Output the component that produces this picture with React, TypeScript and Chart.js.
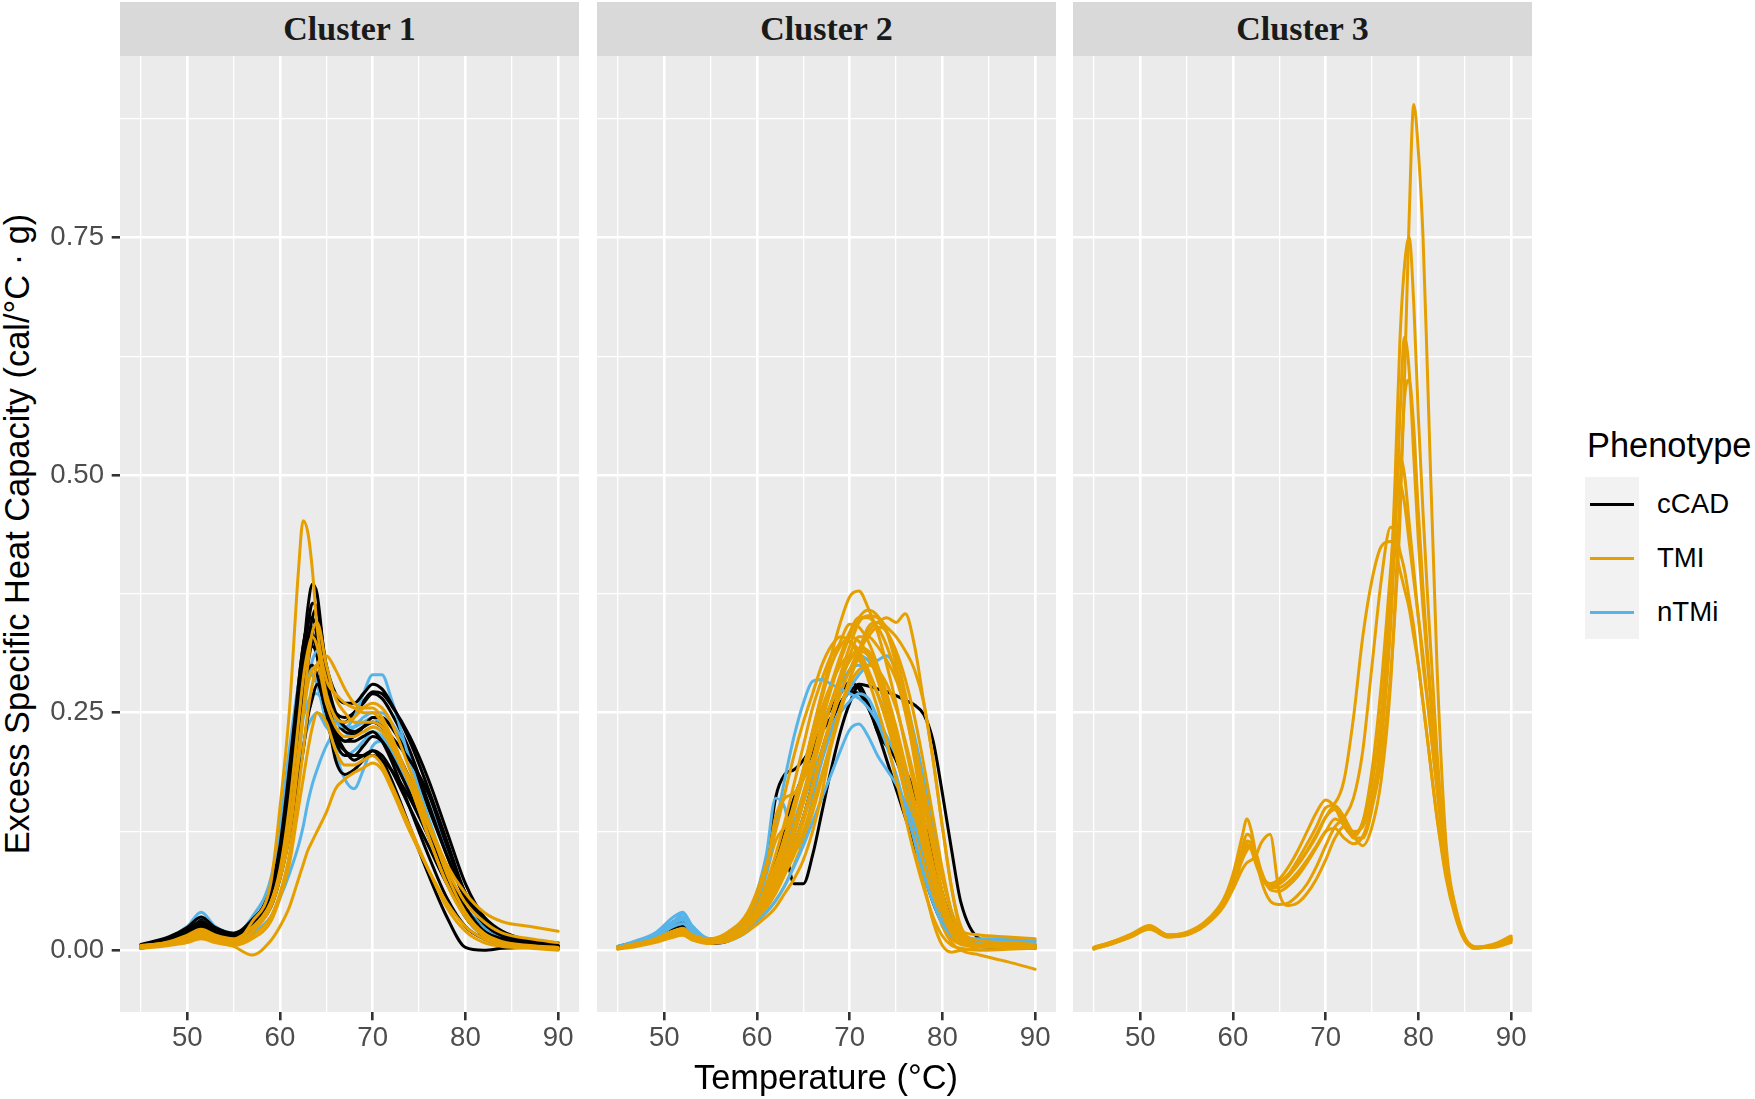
import React, { useEffect, useRef } from "react";
import { Chart, registerables } from "chart.js";

Chart.register(...registerables);

// ---------------- data ----------------
const panelTitles = ["Cluster 1", "Cluster 2", "Cluster 3"];
const phenotypes = ["cCAD", "TMI", "nTMi"];
const phenotypeColors: Record<string, string> = { cCAD: "#000000", TMI: "#E69F00", nTMi: "#56B4E9" };

const xGridValues = [45, 50, 55, 60, 65, 70, 75, 80, 85, 90];
const xMajorValues = [50, 60, 70, 80, 90];
const xTickLabels = ["50", "60", "70", "80", "90"];
const yGridValues = [0, 0.125, 0.25, 0.375, 0.5, 0.625, 0.75, 0.875];
const yMajorValues = [0, 0.25, 0.5, 0.75];
const yTickLabels = ["0.00", "0.25", "0.50", "0.75"];
const xLimits = [42.75, 92.25];
const yLimits = [-0.065, 0.941];

const xTitle = "Temperature (°C)";
const yTitle = "Excess Specific Heat Capacity (cal/°C · g)";
const legendTitle = "Phenotype";

// Cluster 1 temperatures (°C)
const temp1 = [45, 48, 50, 51.5, 53, 55, 57, 59, 60, 61, 62, 62.5, 63, 63.5, 64, 65, 66, 67, 68, 69, 70, 71, 72, 74, 76, 78, 80, 82, 84, 87, 90];

const c1_TMI_1 = [0.005, 0.008, 0.012, 0.015, 0.01, 0.008, 0.03, 0.07, 0.15, 0.25, 0.4, 0.452, 0.44, 0.4, 0.34, 0.285, 0.27, 0.26, 0.255, 0.25, 0.25, 0.24, 0.225, 0.175, 0.12, 0.07, 0.035, 0.015, 0.008, 0.004, 0.002];
const c1_TMI_2 = [0.002, 0.006, 0.01, 0.014, 0.01, 0.004, -0.005, 0.01, 0.025, 0.045, 0.075, 0.09, 0.105, 0.115, 0.125, 0.145, 0.17, 0.18, 0.187, 0.192, 0.197, 0.19, 0.17, 0.125, 0.085, 0.05, 0.025, 0.012, 0.006, 0.003, 0.001];
const c1_TMI_3 = [0.004, 0.007, 0.012, 0.018, 0.012, 0.008, 0.02, 0.045, 0.075, 0.12, 0.2, 0.25, 0.3, 0.335, 0.345, 0.3, 0.265, 0.25, 0.24, 0.24, 0.24, 0.235, 0.22, 0.18, 0.135, 0.09, 0.06, 0.04, 0.03, 0.025, 0.02];
const c1_TMI_4 = [0.003, 0.006, 0.01, 0.015, 0.01, 0.006, 0.015, 0.035, 0.06, 0.1, 0.17, 0.21, 0.25, 0.28, 0.3, 0.31, 0.295, 0.275, 0.26, 0.255, 0.255, 0.245, 0.225, 0.175, 0.12, 0.07, 0.035, 0.015, 0.008, 0.004, 0.002];
const c1_TMI_5 = [0.005, 0.008, 0.013, 0.02, 0.014, 0.01, 0.02, 0.05, 0.085, 0.15, 0.24, 0.285, 0.315, 0.33, 0.32, 0.27, 0.245, 0.24, 0.245, 0.255, 0.26, 0.255, 0.24, 0.19, 0.135, 0.08, 0.04, 0.018, 0.009, 0.005, 0.003];
const c1_TMI_6 = [0.002, 0.005, 0.008, 0.012, 0.008, 0.005, 0.012, 0.03, 0.055, 0.09, 0.15, 0.18, 0.21, 0.235, 0.25, 0.24, 0.21, 0.195, 0.195, 0.2, 0.205, 0.195, 0.175, 0.13, 0.085, 0.045, 0.02, 0.008, 0.004, 0.002, 0.0];
const c1_TMI_7 = [0.004, 0.009, 0.016, 0.022, 0.016, 0.012, 0.024, 0.05, 0.08, 0.13, 0.21, 0.25, 0.28, 0.295, 0.3, 0.26, 0.235, 0.225, 0.225, 0.23, 0.235, 0.23, 0.215, 0.175, 0.13, 0.085, 0.05, 0.03, 0.018, 0.012, 0.008];

const c1_cCAD_1 = [0.004, 0.012, 0.022, 0.03, 0.02, 0.015, 0.028, 0.055, 0.09, 0.16, 0.26, 0.31, 0.36, 0.385, 0.375, 0.29, 0.25, 0.235, 0.23, 0.235, 0.24, 0.235, 0.22, 0.18, 0.13, 0.08, 0.045, 0.02, 0.01, 0.005, 0.002];
const c1_cCAD_2 = [0.003, 0.01, 0.018, 0.028, 0.02, 0.016, 0.03, 0.06, 0.095, 0.16, 0.25, 0.3, 0.34, 0.365, 0.36, 0.3, 0.27, 0.26, 0.26, 0.27, 0.28, 0.275, 0.26, 0.22, 0.17, 0.115, 0.06, 0.03, 0.015, 0.008, 0.004];
const c1_cCAD_3 = [0.005, 0.012, 0.02, 0.03, 0.022, 0.016, 0.03, 0.065, 0.11, 0.19, 0.28, 0.32, 0.345, 0.35, 0.33, 0.26, 0.22, 0.205, 0.205, 0.215, 0.225, 0.22, 0.205, 0.165, 0.12, 0.075, 0.035, 0.015, 0.008, 0.004, 0.002];
const c1_cCAD_4 = [0.004, 0.01, 0.018, 0.025, 0.018, 0.012, 0.025, 0.05, 0.08, 0.13, 0.21, 0.26, 0.3, 0.325, 0.33, 0.27, 0.23, 0.21, 0.2, 0.205, 0.21, 0.2, 0.18, 0.13, 0.08, 0.035, 0.003, 0.0, 0.002, 0.003, 0.001];
const c1_cCAD_5 = [0.006, 0.014, 0.024, 0.035, 0.024, 0.018, 0.032, 0.06, 0.1, 0.17, 0.25, 0.28, 0.295, 0.3, 0.29, 0.25, 0.23, 0.22, 0.225, 0.235, 0.24, 0.235, 0.225, 0.2, 0.165, 0.11, 0.06, 0.035, 0.02, 0.01, 0.005];
const c1_cCAD_6 = [0.003, 0.008, 0.015, 0.022, 0.016, 0.012, 0.022, 0.045, 0.075, 0.12, 0.18, 0.21, 0.245, 0.265, 0.28, 0.25, 0.2, 0.185, 0.19, 0.2, 0.21, 0.205, 0.19, 0.15, 0.11, 0.07, 0.04, 0.02, 0.012, 0.006, 0.003];
const c1_cCAD_7 = [0.005, 0.012, 0.022, 0.032, 0.022, 0.015, 0.03, 0.06, 0.1, 0.18, 0.28, 0.32, 0.34, 0.335, 0.31, 0.26, 0.24, 0.24, 0.25, 0.26, 0.27, 0.265, 0.25, 0.21, 0.155, 0.1, 0.055, 0.03, 0.018, 0.01, 0.008];
const c1_cCAD_8 = [0.002, 0.008, 0.016, 0.026, 0.02, 0.014, 0.028, 0.055, 0.09, 0.15, 0.24, 0.28, 0.31, 0.32, 0.31, 0.26, 0.23, 0.22, 0.22, 0.225, 0.23, 0.22, 0.2, 0.15, 0.1, 0.055, 0.025, 0.012, 0.006, 0.004, 0.002];
const c1_cCAD_9 = [0.004, 0.01, 0.018, 0.028, 0.02, 0.015, 0.027, 0.05, 0.085, 0.14, 0.22, 0.27, 0.32, 0.35, 0.36, 0.28, 0.225, 0.21, 0.205, 0.205, 0.205, 0.2, 0.19, 0.16, 0.12, 0.08, 0.045, 0.022, 0.012, 0.006, 0.003];
const c1_cCAD_10 = [0.003, 0.009, 0.017, 0.027, 0.02, 0.014, 0.026, 0.052, 0.088, 0.155, 0.25, 0.29, 0.325, 0.34, 0.335, 0.28, 0.245, 0.23, 0.228, 0.235, 0.245, 0.245, 0.235, 0.2, 0.15, 0.1, 0.055, 0.028, 0.015, 0.008, 0.004];
const c1_cCAD_11 = [0.005, 0.013, 0.023, 0.034, 0.024, 0.017, 0.03, 0.058, 0.095, 0.165, 0.255, 0.3, 0.33, 0.33, 0.315, 0.27, 0.25, 0.245, 0.25, 0.262, 0.272, 0.27, 0.258, 0.225, 0.18, 0.125, 0.07, 0.035, 0.018, 0.009, 0.005];

const c1_nTMi_1 = [0.003, 0.01, 0.02, 0.03, 0.022, 0.016, 0.03, 0.06, 0.1, 0.16, 0.22, 0.245, 0.26, 0.27, 0.27, 0.255, 0.24, 0.235, 0.245, 0.27, 0.29, 0.29, 0.265, 0.2, 0.14, 0.085, 0.045, 0.022, 0.012, 0.006, 0.003];
const c1_nTMi_2 = [0.005, 0.013, 0.025, 0.04, 0.025, 0.016, 0.028, 0.05, 0.08, 0.13, 0.2, 0.245, 0.28, 0.305, 0.315, 0.27, 0.21, 0.18, 0.17, 0.19, 0.215, 0.22, 0.21, 0.17, 0.12, 0.075, 0.04, 0.02, 0.01, 0.005, 0.002];
const c1_nTMi_3 = [0.004, 0.012, 0.022, 0.035, 0.024, 0.016, 0.035, 0.075, 0.13, 0.21, 0.28, 0.3, 0.3, 0.29, 0.28, 0.26, 0.245, 0.235, 0.23, 0.23, 0.235, 0.23, 0.215, 0.17, 0.12, 0.07, 0.035, 0.015, 0.008, 0.004, 0.002];
const c1_nTMi_4 = [0.003, 0.008, 0.015, 0.022, 0.016, 0.01, 0.018, 0.035, 0.055, 0.08, 0.11, 0.13, 0.155, 0.175, 0.19, 0.215, 0.23, 0.235, 0.235, 0.24, 0.245, 0.235, 0.215, 0.17, 0.12, 0.075, 0.04, 0.02, 0.01, 0.005, 0.003];
const c1_nTMi_5 = [0.004, 0.011, 0.02, 0.032, 0.024, 0.018, 0.03, 0.06, 0.1, 0.17, 0.25, 0.275, 0.285, 0.29, 0.28, 0.24, 0.215, 0.205, 0.21, 0.22, 0.23, 0.225, 0.21, 0.17, 0.125, 0.08, 0.045, 0.025, 0.014, 0.008, 0.004];
const c1_nTMi_6 = [0.005, 0.012, 0.022, 0.034, 0.025, 0.016, 0.028, 0.055, 0.085, 0.13, 0.19, 0.215, 0.235, 0.245, 0.25, 0.235, 0.225, 0.225, 0.235, 0.245, 0.25, 0.25, 0.24, 0.205, 0.155, 0.105, 0.06, 0.03, 0.015, 0.007, 0.004];

// Cluster 2 temperatures (°C)
const temp2 = [45, 47, 49, 51, 52, 53, 55, 57, 59, 61, 62, 63, 64, 65, 66, 67, 68, 69, 70, 71, 72, 73, 74, 75, 76, 77, 78, 79, 80, 81, 82, 84, 87, 90];

const c2_TMI_1 = [0.002, 0.006, 0.01, 0.018, 0.02, 0.014, 0.01, 0.015, 0.03, 0.06, 0.08, 0.11, 0.145, 0.185, 0.23, 0.27, 0.31, 0.345, 0.372, 0.378, 0.36, 0.335, 0.3, 0.26, 0.215, 0.17, 0.125, 0.085, 0.05, 0.025, 0.012, 0.006, 0.005, 0.004];
const c2_TMI_2 = [0.002, 0.005, 0.009, 0.015, 0.017, 0.012, 0.008, 0.012, 0.025, 0.045, 0.06, 0.08, 0.1, 0.125, 0.155, 0.185, 0.22, 0.255, 0.285, 0.31, 0.335, 0.345, 0.35, 0.345, 0.354, 0.32, 0.26, 0.2, 0.13, 0.065, 0.02, 0.006, 0.005, 0.004];
const c2_TMI_3 = [0.003, 0.007, 0.012, 0.02, 0.022, 0.015, 0.01, 0.014, 0.028, 0.055, 0.075, 0.1, 0.13, 0.165, 0.2, 0.24, 0.275, 0.305, 0.33, 0.35, 0.358, 0.352, 0.335, 0.3, 0.255, 0.2, 0.14, 0.085, 0.04, 0.018, 0.008, 0.005, 0.005, 0.003];
const c2_TMI_4 = [0.002, 0.006, 0.011, 0.02, 0.022, 0.016, 0.012, 0.02, 0.04, 0.09, 0.125, 0.165, 0.205, 0.24, 0.27, 0.3, 0.32, 0.33, 0.325, 0.31, 0.285, 0.255, 0.22, 0.18, 0.14, 0.1, 0.065, 0.035, 0.015, 0.005, 0.002, 0.0, 0.001, 0.002];
const c2_TMI_5 = [0.002, 0.005, 0.01, 0.017, 0.019, 0.013, 0.009, 0.014, 0.03, 0.06, 0.085, 0.115, 0.15, 0.19, 0.23, 0.265, 0.3, 0.325, 0.343, 0.34, 0.325, 0.3, 0.27, 0.235, 0.195, 0.155, 0.115, 0.075, 0.04, 0.018, 0.008, 0.004, 0.003, 0.002];
const c2_TMI_6 = [0.003, 0.006, 0.01, 0.016, 0.018, 0.013, 0.01, 0.015, 0.028, 0.05, 0.065, 0.085, 0.11, 0.14, 0.175, 0.21, 0.245, 0.28, 0.31, 0.33, 0.33, 0.32, 0.305, 0.285, 0.255, 0.215, 0.17, 0.12, 0.075, 0.04, 0.02, 0.01, 0.008, 0.006];
const c2_TMI_7 = [0.002, 0.006, 0.01, 0.017, 0.019, 0.014, 0.01, 0.016, 0.035, 0.085, 0.14, 0.16, 0.165, 0.18, 0.2, 0.23, 0.26, 0.285, 0.305, 0.315, 0.31, 0.29, 0.26, 0.225, 0.185, 0.145, 0.105, 0.07, 0.04, 0.02, 0.01, 0.005, 0.004, 0.003];
const c2_TMI_8 = [0.001, 0.004, 0.008, 0.014, 0.016, 0.011, 0.007, 0.01, 0.02, 0.035, 0.045, 0.06, 0.075, 0.095, 0.125, 0.165, 0.215, 0.255, 0.28, 0.295, 0.3, 0.295, 0.28, 0.255, 0.22, 0.18, 0.135, 0.09, 0.05, 0.022, 0.01, 0.005, 0.004, 0.003];
const c2_TMI_9 = [0.002, 0.005, 0.009, 0.015, 0.017, 0.012, 0.009, 0.013, 0.025, 0.048, 0.065, 0.09, 0.12, 0.155, 0.19, 0.225, 0.26, 0.29, 0.32, 0.345, 0.352, 0.35, 0.34, 0.33, 0.315, 0.295, 0.26, 0.2, 0.13, 0.065, 0.025, 0.008, 0.006, 0.005];
const c2_TMI_10 = [0.003, 0.006, 0.011, 0.018, 0.02, 0.014, 0.01, 0.014, 0.026, 0.045, 0.06, 0.08, 0.105, 0.135, 0.17, 0.205, 0.24, 0.27, 0.295, 0.315, 0.33, 0.34, 0.335, 0.31, 0.27, 0.22, 0.165, 0.11, 0.06, 0.028, 0.012, 0.006, 0.005, 0.004];
const c2_TMI_11 = [0.004, 0.007, 0.012, 0.02, 0.022, 0.016, 0.011, 0.016, 0.03, 0.06, 0.085, 0.115, 0.15, 0.19, 0.23, 0.27, 0.3, 0.32, 0.33, 0.325, 0.31, 0.285, 0.25, 0.21, 0.17, 0.13, 0.09, 0.055, 0.025, 0.008, 0.0, -0.005, -0.012, -0.02];
const c2_TMI_12 = [0.002, 0.005, 0.009, 0.015, 0.017, 0.012, 0.008, 0.012, 0.025, 0.05, 0.07, 0.095, 0.125, 0.16, 0.195, 0.23, 0.26, 0.285, 0.305, 0.318, 0.315, 0.295, 0.26, 0.215, 0.165, 0.115, 0.07, 0.03, 0.005, -0.002, 0.0, 0.003, 0.004, 0.003];
const c2_TMI_13 = [0.003, 0.007, 0.012, 0.02, 0.023, 0.017, 0.012, 0.018, 0.034, 0.065, 0.09, 0.12, 0.155, 0.19, 0.225, 0.255, 0.28, 0.3, 0.31, 0.305, 0.29, 0.27, 0.24, 0.205, 0.165, 0.125, 0.09, 0.06, 0.04, 0.028, 0.02, 0.016, 0.014, 0.012];
const c2_TMI_14 = [0.002, 0.005, 0.009, 0.014, 0.016, 0.011, 0.008, 0.011, 0.022, 0.04, 0.052, 0.068, 0.09, 0.115, 0.145, 0.18, 0.215, 0.25, 0.285, 0.315, 0.34, 0.345, 0.335, 0.315, 0.285, 0.245, 0.195, 0.14, 0.085, 0.04, 0.015, 0.006, 0.005, 0.004];
const c2_TMI_15 = [0.002, 0.006, 0.011, 0.019, 0.021, 0.015, 0.011, 0.017, 0.034, 0.07, 0.1, 0.135, 0.175, 0.215, 0.255, 0.285, 0.31, 0.322, 0.325, 0.315, 0.295, 0.27, 0.24, 0.205, 0.165, 0.125, 0.088, 0.055, 0.028, 0.012, 0.006, 0.004, 0.004, 0.003];
const c2_TMI_16 = [0.003, 0.007, 0.012, 0.02, 0.022, 0.016, 0.012, 0.018, 0.036, 0.08, 0.115, 0.13, 0.15, 0.18, 0.215, 0.25, 0.28, 0.31, 0.335, 0.35, 0.35, 0.34, 0.32, 0.29, 0.25, 0.205, 0.155, 0.105, 0.06, 0.03, 0.012, 0.006, 0.005, 0.005];

const c2_nTMi_1 = [0.004, 0.01, 0.018, 0.035, 0.04, 0.026, 0.012, 0.016, 0.035, 0.08, 0.13, 0.18, 0.225, 0.26, 0.283, 0.285, 0.28, 0.275, 0.27, 0.265, 0.255, 0.24, 0.215, 0.185, 0.15, 0.115, 0.08, 0.05, 0.028, 0.015, 0.01, 0.008, 0.006, 0.005];
const c2_nTMi_2 = [0.003, 0.009, 0.016, 0.03, 0.034, 0.022, 0.01, 0.015, 0.035, 0.1, 0.16, 0.15, 0.105, 0.12, 0.16, 0.2, 0.24, 0.27, 0.295, 0.31, 0.305, 0.29, 0.265, 0.23, 0.19, 0.15, 0.11, 0.075, 0.045, 0.025, 0.012, 0.008, 0.008, 0.007];
const c2_nTMi_3 = [0.002, 0.007, 0.013, 0.025, 0.028, 0.019, 0.008, 0.01, 0.02, 0.04, 0.052, 0.068, 0.088, 0.11, 0.135, 0.16, 0.185, 0.21, 0.232, 0.238, 0.225, 0.205, 0.19, 0.175, 0.155, 0.13, 0.1, 0.07, 0.04, 0.02, 0.01, 0.006, 0.006, 0.005];
const c2_nTMi_4 = [0.003, 0.008, 0.014, 0.028, 0.032, 0.021, 0.009, 0.012, 0.025, 0.05, 0.065, 0.085, 0.11, 0.14, 0.17, 0.2, 0.23, 0.255, 0.275, 0.29, 0.3, 0.305, 0.31, 0.295, 0.265, 0.225, 0.18, 0.13, 0.08, 0.04, 0.018, 0.012, 0.012, 0.01];
const c2_nTMi_5 = [0.004, 0.009, 0.016, 0.03, 0.035, 0.024, 0.011, 0.015, 0.03, 0.06, 0.08, 0.105, 0.135, 0.165, 0.2, 0.235, 0.26, 0.28, 0.295, 0.3, 0.29, 0.27, 0.245, 0.215, 0.18, 0.14, 0.1, 0.065, 0.035, 0.018, 0.01, 0.008, 0.007, 0.006];
const c2_nTMi_6 = [0.003, 0.008, 0.015, 0.03, 0.038, 0.025, 0.01, 0.013, 0.028, 0.058, 0.078, 0.1, 0.125, 0.155, 0.185, 0.21, 0.235, 0.25, 0.262, 0.27, 0.265, 0.245, 0.225, 0.205, 0.18, 0.15, 0.115, 0.08, 0.045, 0.022, 0.012, 0.01, 0.01, 0.009];

const c2_cCAD_1 = [0.003, 0.008, 0.014, 0.025, 0.028, 0.019, 0.008, 0.012, 0.028, 0.06, 0.085, 0.102, 0.07, 0.07, 0.1, 0.145, 0.19, 0.23, 0.26, 0.278, 0.26, 0.23, 0.215, 0.205, 0.19, 0.165, 0.135, 0.1, 0.06, 0.03, 0.01, 0.004, 0.003, 0.002];
const c2_cCAD_2 = [0.003, 0.008, 0.014, 0.022, 0.025, 0.017, 0.007, 0.01, 0.03, 0.09, 0.16, 0.185, 0.19, 0.2, 0.215, 0.23, 0.245, 0.26, 0.272, 0.28, 0.278, 0.275, 0.272, 0.268, 0.263, 0.258, 0.248, 0.22, 0.165, 0.105, 0.05, 0.012, 0.006, 0.005];
const c2_cCAD_3 = [0.004, 0.009, 0.016, 0.028, 0.032, 0.021, 0.009, 0.013, 0.03, 0.065, 0.095, 0.13, 0.16, 0.185, 0.21, 0.235, 0.255, 0.27, 0.282, 0.275, 0.255, 0.235, 0.218, 0.2, 0.175, 0.15, 0.12, 0.09, 0.055, 0.028, 0.012, 0.006, 0.005, 0.004];
const c2_cCAD_4 = [0.003, 0.008, 0.015, 0.03, 0.034, 0.022, 0.01, 0.013, 0.026, 0.05, 0.065, 0.085, 0.11, 0.14, 0.175, 0.21, 0.24, 0.26, 0.272, 0.27, 0.255, 0.23, 0.2, 0.17, 0.14, 0.11, 0.08, 0.05, 0.028, 0.014, 0.008, 0.006, 0.006, 0.005];

// Cluster 3 temperatures (°C)
const temp3 = [45, 47, 49, 51, 53, 55, 57, 59, 60, 61, 61.5, 62, 62.5, 63, 64, 65, 66, 67, 68, 69, 70, 71, 72, 73, 74, 75, 76, 77, 77.5, 78, 78.5, 79, 79.5, 80, 80.5, 81, 82, 83, 84, 85, 86, 88, 90];

const c3_TMI_1 = [0.002, 0.008, 0.015, 0.024, 0.015, 0.018, 0.028, 0.05, 0.072, 0.108, 0.122, 0.118, 0.098, 0.08, 0.066, 0.066, 0.072, 0.082, 0.095, 0.11, 0.125, 0.128, 0.118, 0.112, 0.12, 0.15, 0.2, 0.29, 0.36, 0.45, 0.6, 0.77, 0.89, 0.84, 0.75, 0.6, 0.3, 0.11, 0.045, 0.012, 0.003, 0.004, 0.012];
const c3_TMI_2 = [0.001, 0.007, 0.014, 0.022, 0.014, 0.016, 0.026, 0.046, 0.066, 0.095, 0.105, 0.11, 0.102, 0.085, 0.064, 0.062, 0.068, 0.078, 0.092, 0.108, 0.125, 0.138, 0.132, 0.122, 0.135, 0.175, 0.25, 0.38, 0.5, 0.64, 0.72, 0.75, 0.68, 0.56, 0.46, 0.37, 0.21, 0.095, 0.045, 0.014, 0.004, 0.003, 0.008];
const c3_TMI_3 = [0.003, 0.009, 0.017, 0.026, 0.016, 0.019, 0.03, 0.054, 0.08, 0.12, 0.138, 0.125, 0.1, 0.082, 0.07, 0.072, 0.08, 0.09, 0.104, 0.12, 0.14, 0.152, 0.14, 0.125, 0.13, 0.16, 0.22, 0.34, 0.44, 0.56, 0.645, 0.61, 0.52, 0.43, 0.36, 0.3, 0.18, 0.09, 0.04, 0.012, 0.002, 0.005, 0.014];
const c3_TMI_4 = [0.002, 0.008, 0.016, 0.025, 0.015, 0.017, 0.027, 0.047, 0.064, 0.085, 0.092, 0.095, 0.1, 0.112, 0.122, 0.06, 0.047, 0.05, 0.06, 0.075, 0.095, 0.118, 0.13, 0.12, 0.11, 0.13, 0.18, 0.28, 0.37, 0.48, 0.58, 0.6, 0.55, 0.46, 0.38, 0.31, 0.19, 0.09, 0.042, 0.012, 0.003, 0.004, 0.01];
const c3_TMI_5 = [0.002, 0.007, 0.014, 0.023, 0.014, 0.017, 0.028, 0.05, 0.07, 0.1, 0.115, 0.112, 0.095, 0.08, 0.068, 0.07, 0.078, 0.09, 0.105, 0.122, 0.14, 0.148, 0.135, 0.118, 0.118, 0.15, 0.23, 0.36, 0.45, 0.52, 0.5, 0.45, 0.4, 0.35, 0.3, 0.26, 0.17, 0.09, 0.04, 0.012, 0.003, 0.006, 0.015];
const c3_TMI_6 = [0.003, 0.009, 0.016, 0.025, 0.016, 0.018, 0.029, 0.052, 0.074, 0.104, 0.112, 0.105, 0.09, 0.078, 0.07, 0.075, 0.088, 0.105, 0.125, 0.145, 0.158, 0.15, 0.13, 0.12, 0.135, 0.19, 0.28, 0.4, 0.46, 0.49, 0.47, 0.43, 0.39, 0.35, 0.31, 0.26, 0.17, 0.09, 0.04, 0.012, 0.002, 0.005, 0.012];
const c3_TMI_7 = [0.002, 0.007, 0.015, 0.024, 0.015, 0.017, 0.027, 0.048, 0.068, 0.098, 0.108, 0.11, 0.098, 0.075, 0.052, 0.048, 0.05, 0.058, 0.07, 0.088, 0.11, 0.13, 0.14, 0.16, 0.21, 0.3, 0.39, 0.445, 0.44, 0.42, 0.4, 0.37, 0.34, 0.3, 0.26, 0.22, 0.14, 0.075, 0.035, 0.01, 0.003, 0.004, 0.01];
const c3_TMI_8 = [0.003, 0.008, 0.016, 0.025, 0.016, 0.018, 0.029, 0.05, 0.07, 0.1, 0.11, 0.108, 0.095, 0.08, 0.068, 0.07, 0.08, 0.095, 0.112, 0.13, 0.15, 0.155, 0.18, 0.245, 0.33, 0.39, 0.425, 0.43, 0.42, 0.4, 0.38, 0.36, 0.33, 0.3, 0.26, 0.22, 0.14, 0.08, 0.038, 0.012, 0.003, 0.005, 0.012];

type Curve = [string, number[]];

const cluster1Curves: Curve[] = [
  ["TMI", c1_TMI_1], ["TMI", c1_TMI_2], ["TMI", c1_TMI_3], ["TMI", c1_TMI_4],
  ["TMI", c1_TMI_5], ["TMI", c1_TMI_6], ["TMI", c1_TMI_7],
  ["cCAD", c1_cCAD_1], ["cCAD", c1_cCAD_2], ["cCAD", c1_cCAD_3], ["cCAD", c1_cCAD_4],
  ["cCAD", c1_cCAD_5], ["cCAD", c1_cCAD_6],
  ["nTMi", c1_nTMi_1], ["nTMi", c1_nTMi_2], ["nTMi", c1_nTMi_3],
  ["cCAD", c1_cCAD_7], ["cCAD", c1_cCAD_8], ["cCAD", c1_cCAD_9], ["cCAD", c1_cCAD_10], ["cCAD", c1_cCAD_11],
  ["nTMi", c1_nTMi_4], ["nTMi", c1_nTMi_5], ["nTMi", c1_nTMi_6],
];

const cluster2Curves: Curve[] = [
  ["TMI", c2_TMI_1], ["TMI", c2_TMI_2], ["TMI", c2_TMI_3], ["TMI", c2_TMI_4],
  ["TMI", c2_TMI_5], ["TMI", c2_TMI_6], ["TMI", c2_TMI_7], ["TMI", c2_TMI_8],
  ["nTMi", c2_nTMi_1], ["nTMi", c2_nTMi_3],
  ["TMI", c2_TMI_9], ["TMI", c2_TMI_10], ["TMI", c2_TMI_11], ["TMI", c2_TMI_12],
  ["TMI", c2_TMI_13], ["TMI", c2_TMI_14], ["TMI", c2_TMI_15], ["TMI", c2_TMI_16],
  ["nTMi", c2_nTMi_2], ["nTMi", c2_nTMi_4], ["nTMi", c2_nTMi_5], ["nTMi", c2_nTMi_6],
  ["cCAD", c2_cCAD_1], ["cCAD", c2_cCAD_2], ["cCAD", c2_cCAD_3], ["cCAD", c2_cCAD_4],
];

const cluster3Curves: Curve[] = [
  ["TMI", c3_TMI_1], ["TMI", c3_TMI_2], ["TMI", c3_TMI_3], ["TMI", c3_TMI_4],
  ["TMI", c3_TMI_5], ["TMI", c3_TMI_6], ["TMI", c3_TMI_7], ["TMI", c3_TMI_8],
];

const panelTemps = [temp1, temp2, temp3];
const panelCurves = [cluster1Curves, cluster2Curves, cluster3Curves];

// ---------------- layout / style ----------------
const SANS = "'Liberation Sans', Arial, Helvetica, sans-serif";
const SERIF = "'Liberation Serif', 'Times New Roman', Times, serif";
const PANEL_LEFT = [120, 597, 1073];
const PANEL_W = 459;
const PANEL_TOP = 56;
const PANEL_H = 956;
const PAD_TOP = 30;
const PAD_RIGHT = 20;
const X_AXIS_H = 50;
const Y_AXIS_W = 80;
const LINE_W = 3.0;
const GRID_MAJOR_W = 2.6;
const GRID_MINOR_W = 1.3;

const panelBackground = {
  id: "panelBackground",
  beforeDraw(chart: any) {
    const { ctx, chartArea } = chart;
    ctx.save();
    ctx.fillStyle = "#EBEBEB";
    ctx.fillRect(chartArea.left, chartArea.top, chartArea.right - chartArea.left, chartArea.bottom - chartArea.top);
    ctx.restore();
  },
};

function canvasBox(i: number) {
  const left = i === 0 ? PANEL_LEFT[0] - Y_AXIS_W : PANEL_LEFT[i] - 20;
  const width = PANEL_LEFT[i] - left + PANEL_W + PAD_RIGHT;
  const top = PANEL_TOP - PAD_TOP;
  const height = PAD_TOP + PANEL_H + X_AXIS_H;
  return { left, top, width, height };
}

function buildChart(canvas: HTMLCanvasElement, i: number) {
  const temps = panelTemps[i];
  const datasets = panelCurves[i].map(([pheno, values], k) => ({
    label: pheno + " " + (k + 1),
    data: temps.map((t, j) => ({ x: t, y: values[j] })),
    borderColor: phenotypeColors[pheno],
    backgroundColor: phenotypeColors[pheno],
    borderWidth: LINE_W,
    borderJoinStyle: "round" as const,
    borderCapStyle: "round" as const,
    pointRadius: 0,
    pointHoverRadius: 0,
    fill: false,
    cubicInterpolationMode: "monotone" as const,
  }));
  const isFirst = i === 0;
  return new Chart(canvas, {
    type: "line",
    data: { datasets },
    options: {
      animation: false,
      responsive: false,
      events: [],
      layout: { padding: { top: PAD_TOP, right: PAD_RIGHT, bottom: 0, left: isFirst ? 0 : 20 } },
      plugins: { legend: { display: false }, tooltip: { enabled: false }, title: { display: false } },
      scales: {
        x: {
          type: "linear",
          min: xLimits[0],
          max: xLimits[1],
          afterBuildTicks: (s: any) => {
            s.ticks = xGridValues.map((v) => ({ value: v }));
          },
          afterFit: (s: any) => {
            s.height = X_AXIS_H;
          },
          border: { display: false },
          grid: {
            color: "#FFFFFF",
            lineWidth: (c: any) => (c.tick && xMajorValues.includes(c.tick.value) ? GRID_MAJOR_W : GRID_MINOR_W),
            drawTicks: true,
            tickLength: 8.3,
            tickWidth: 2.6,
            tickColor: (c: any) => (c.tick && xMajorValues.includes(c.tick.value) ? "#333333" : "rgba(0,0,0,0)"),
          },
          ticks: {
            autoSkip: false,
            maxRotation: 0,
            minRotation: 0,
            padding: 1.5,
            color: "#4D4D4D",
            font: { family: SANS, size: 27.6 },
            callback: (v: any) => {
              const k = xMajorValues.indexOf(Number(v));
              return k >= 0 ? xTickLabels[k] : "";
            },
          },
        },
        y: {
          type: "linear",
          min: yLimits[0],
          max: yLimits[1],
          afterBuildTicks: (s: any) => {
            s.ticks = yGridValues.map((v) => ({ value: v }));
          },
          afterFit: (s: any) => {
            s.width = isFirst ? Y_AXIS_W : 0;
          },
          border: { display: false },
          grid: {
            color: "#FFFFFF",
            lineWidth: (c: any) => (c.tick && yMajorValues.includes(c.tick.value) ? GRID_MAJOR_W : GRID_MINOR_W),
            drawTicks: isFirst,
            tickLength: 8.3,
            tickWidth: 2.6,
            tickColor: (c: any) => (c.tick && yMajorValues.includes(c.tick.value) ? "#333333" : "rgba(0,0,0,0)"),
          },
          ticks: {
            display: isFirst,
            autoSkip: false,
            padding: 7.7,
            color: "#4D4D4D",
            font: { family: SANS, size: 27.6 },
            callback: (v: any) => {
              const k = yMajorValues.indexOf(Number(v));
              return k >= 0 ? yTickLabels[k] : "";
            },
          },
        },
      },
    },
    plugins: [panelBackground],
  } as any);
}

export default function App() {
  const refs = [useRef<HTMLCanvasElement>(null), useRef<HTMLCanvasElement>(null), useRef<HTMLCanvasElement>(null)];

  useEffect(() => {
    document.body.style.margin = "0";
    const charts = refs.map((r, i) => (r.current ? buildChart(r.current, i) : null));
    return () => {
      charts.forEach((c) => c && c.destroy());
    };
  }, []);

  return (
    <div
      style={{
        position: "absolute",
        left: 0,
        top: 0,
        width: 1755,
        height: 1099,
        background: "#FFFFFF",
        fontFamily: SANS,
        overflow: "hidden",
      }}
    >
      {panelTitles.map((t, i) => (
        <div
          key={"strip" + i}
          style={{
            position: "absolute",
            left: PANEL_LEFT[i],
            top: 2,
            width: PANEL_W,
            height: 54,
            background: "#D9D9D9",
            textAlign: "center",
            lineHeight: "54px",
            fontFamily: SERIF,
            fontWeight: "bold",
            fontSize: 34,
            color: "#1A1A1A",
          }}
        >
          {t}
        </div>
      ))}

      {[0, 1, 2].map((i) => {
        const b = canvasBox(i);
        return (
          <canvas
            key={"cv" + i}
            ref={refs[i]}
            width={b.width}
            height={b.height}
            style={{ position: "absolute", left: b.left, top: b.top, width: b.width, height: b.height }}
          />
        );
      })}

      <div
        style={{
          position: "absolute",
          left: 17 - 500,
          top: 534 - 20,
          width: 1000,
          height: 40,
          lineHeight: "40px",
          textAlign: "center",
          fontSize: 34.4,
          color: "#000000",
          transform: "rotate(-90deg)",
          transformOrigin: "50% 50%",
          whiteSpace: "nowrap",
        }}
      >
        {yTitle}
      </div>

      <div
        style={{
          position: "absolute",
          left: PANEL_LEFT[0],
          top: 1060,
          width: PANEL_LEFT[2] + PANEL_W - PANEL_LEFT[0],
          height: 34.4,
          lineHeight: 1,
          textAlign: "center",
          fontSize: 34.4,
          color: "#000000",
          whiteSpace: "nowrap",
        }}
      >
        {xTitle}
      </div>

      <div
        style={{
          position: "absolute",
          left: 1587,
          top: 428,
          fontSize: 34.4,
          lineHeight: 1,
          color: "#000000",
          whiteSpace: "nowrap",
        }}
      >
        {legendTitle}
      </div>
      <div style={{ position: "absolute", left: 1585, top: 477, width: 54, height: 54 * phenotypes.length, background: "#F2F2F2" }} />
      {phenotypes.map((p, j) => (
        <React.Fragment key={"lg" + p}>
          <div
            style={{
              position: "absolute",
              left: 1590,
              top: 477 + 27 + 54 * j - 1.5,
              width: 44,
              height: 3,
              background: phenotypeColors[p],
            }}
          />
          <div
            style={{
              position: "absolute",
              left: 1657,
              top: 477 + 27 + 54 * j - 13.8,
              fontSize: 27.6,
              lineHeight: 1,
              color: "#000000",
              whiteSpace: "nowrap",
            }}
          >
            {p}
          </div>
        </React.Fragment>
      ))}
    </div>
  );
}
